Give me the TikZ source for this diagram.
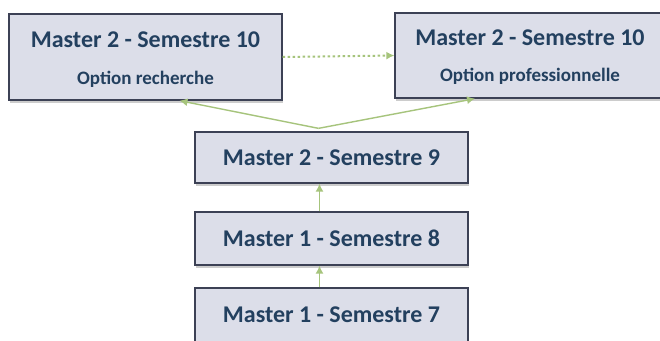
\documentclass[tikz,border=0pt]{standalone}
\usepackage{fontspec}
\setmainfont{Carlito}
\usetikzlibrary{arrows.meta,shadows,calc}
\definecolor{boxfill}{HTML}{DCDEE9}
\definecolor{boxline}{HTML}{3C4155}
\definecolor{txt}{HTML}{23405F}
\definecolor{conn}{HTML}{A6C47C}
\tikzset{
  sembox/.style={rectangle, draw=boxline, line width=1.3pt, fill=boxfill,
    drop shadow={shadow xshift=0.5pt, shadow yshift=-2.5pt, opacity=0.4},
    text=txt, font=\bfseries\fontsize{24}{28}\selectfont, align=center, inner sep=0pt},
  ttl/.style={text=txt, font=\bfseries\fontsize{24}{28}\selectfont},
  sub/.style={text=txt, font=\bfseries\fontsize{19}{22}\selectfont},
  link/.style={draw=conn, line width=1.4pt, -{Latex[length=8pt,width=8pt]}},
}
\begin{document}
\begin{tikzpicture}[x=1pt,y=-1pt]
\clip (0,0) rectangle (660,340);
\fill[white] (0,0) rectangle (660,340);
\node[sembox, minimum width=273pt, minimum height=86pt] (A) at (145.5,57) {};
\node[ttl] (At) at (145.5,40) {Master 2 - Semestre 10};
\node[sub] (As) at (145.5,79) {Option recherche};
\node[sembox, minimum width=270pt, minimum height=85pt] (B) at (530,55.5) {};
\node[ttl] (Bt) at (530,37.5) {Master 2 - Semestre 10};
\node[sub] (Bs) at (530,76) {Option professionnelle};
\node[sembox, minimum width=273pt, minimum height=51pt] (S9) at (331.5,157.5) {Master 2 - Semestre 9};
\node[sembox, minimum width=273pt, minimum height=53pt] (S8) at (331.5,238.5) {Master 1 - Semestre 8};
\node[sembox, minimum width=273pt, minimum height=54pt] (S7) at (331.5,315) {Master 1 - Semestre 7};
\coordinate (J) at ($(S9.north)+(-13,-3)$);
\draw[link] (J) -- ($(A.south)+(34,0)$);
\draw[link] (J) -- ($(B.south)+(-55,0)$);
\draw[link, line width=2pt, dash pattern=on 2.5pt off 2.5pt] (A.east) -- (B.west);
\draw[link] ($(S8.north)+(-12,0)$) -- ($(S9.south)+(-12,0)$);
\draw[link] ($(S7.north)+(-12,0)$) -- ($(S8.south)+(-12,0)$);
\end{tikzpicture}
\end{document}
